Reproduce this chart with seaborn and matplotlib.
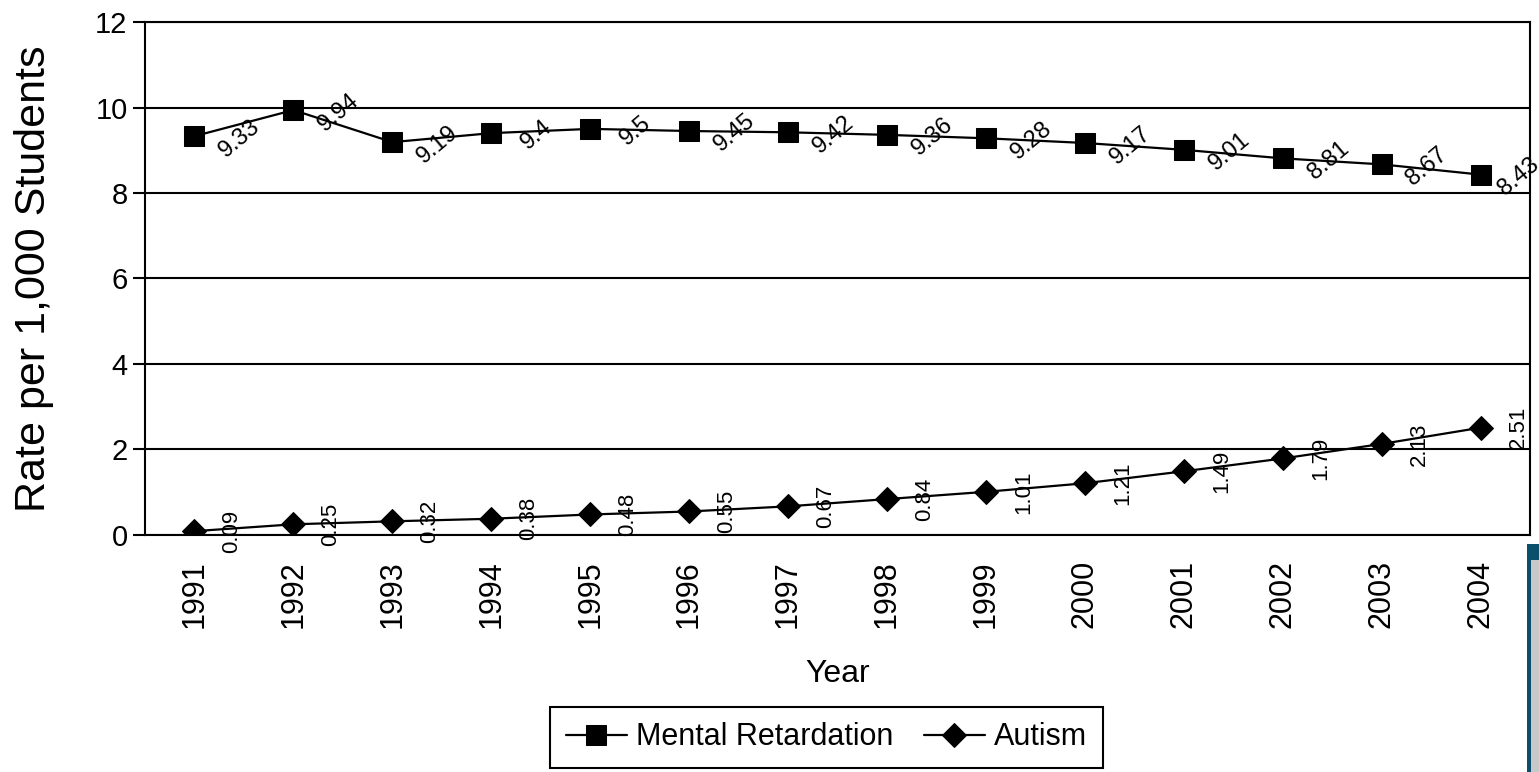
import numpy as np
import pandas as pd
import matplotlib
matplotlib.use("Agg")
import matplotlib.pyplot as plt
import seaborn as sns
from matplotlib.patches import Rectangle

years = [1991, 1992, 1993, 1994, 1995, 1996, 1997, 1998, 1999, 2000, 2001, 2002, 2003, 2004]
mental_retardation = [9.33, 9.94, 9.19, 9.4, 9.5, 9.45, 9.42, 9.36, 9.28, 9.17, 9.01, 8.81, 8.67, 8.43]
autism = [0.09, 0.25, 0.32, 0.38, 0.48, 0.55, 0.67, 0.84, 1.01, 1.21, 1.49, 1.79, 2.13, 2.51]
mr_labels = ["9.33", "9.94", "9.19", "9.4", "9.5", "9.45", "9.42", "9.36", "9.28", "9.17", "9.01", "8.81", "8.67", "8.43"]
autism_labels = ["0.09", "0.25", "0.32", "0.38", "0.48", "0.55", "0.67", "0.84", "1.01", "1.21", "1.49", "1.79", "2.13", "2.51"]

sns.set_style("white")
plt.rcParams["font.family"] = ["Liberation Sans", "DejaVu Sans"]
plt.rcParams["text.color"] = "black"
plt.rcParams["axes.labelcolor"] = "black"
plt.rcParams["xtick.color"] = "black"
plt.rcParams["ytick.color"] = "black"

df = pd.DataFrame({
    "Year": years * 2,
    "Rate": mental_retardation + autism,
    "Series": ["Mental Retardation"] * len(years) + ["Autism"] * len(years),
})

fig, ax = plt.subplots(figsize=(15.39, 7.72), dpi=100)
fig.subplots_adjust(left=0.0942, right=0.9942, top=0.9715, bottom=0.307)

sns.lineplot(data=df, x="Year", y="Rate", hue="Series", style="Series",
             palette=["black", "black"], markers={"Mental Retardation": "s", "Autism": "D"},
             dashes=False, linewidth=1.6, markersize=14, markeredgecolor="black",
             ax=ax, legend=True)
# diamonds a bit smaller than squares
for line in ax.lines:
    if line.get_marker() == "D":
        line.set_markersize(12)

for i, (x, y, t) in enumerate(zip(years, mental_retardation, mr_labels)):
    dx = 0.39 if i == len(years) - 1 else 0.46
    ax.text(x + dx, y - 0.05, t, rotation=40, ha="center", va="center", fontsize=17)
for x, y, t in zip(years, autism, autism_labels):
    ax.text(x + 0.38, y, t, rotation=90, ha="center", va="center", fontsize=16)

ax.set_xlim(1990.5, 2004.5)
ax.set_ylim(0, 12)
ax.set_xticks(years)
ax.set_xticklabels([str(y) for y in years], rotation=90, fontsize=22)
ax.set_xticks(np.arange(1990.5, 2005, 1), minor=True)
ax.tick_params(axis="x", which="major", length=0, pad=18)
ax.tick_params(axis="x", which="minor", length=9, width=1.5, direction="out", color="black")
ax.set_yticks([0, 2, 4, 6, 8, 10, 12])
ax.tick_params(axis="y", length=9, width=1.5, direction="out", color="black", labelsize=21, left=True)
ax.grid(axis="y", color="black", linewidth=1.5)
ax.grid(axis="x", visible=False)
for s in ax.spines.values():
    s.set_color("black")
    s.set_linewidth(1.5)

ax.set_xlabel("Year", fontsize=23, labelpad=22)
ax.set_ylabel("Rate per 1,000 Students", fontsize=31, labelpad=30)

handles, labels = ax.get_legend_handles_labels()
ax.legend(handles, labels, loc="center", bbox_to_anchor=(0.537, 0.045),
          bbox_transform=fig.transFigure, ncol=2, fontsize=22, frameon=True,
          fancybox=False, edgecolor="black", framealpha=1, handlelength=2.0,
          handletextpad=0.3, columnspacing=1.0, borderpad=0.5)
ax.get_legend().get_frame().set_linewidth(1.5)

# slide artefact at the lower right corner
fig.patches.append(Rectangle((1527 / 1539, 0), 12 / 1539, 228 / 772, transform=fig.transFigure,
                             facecolor="#0b4f6c", edgecolor="none"))
fig.patches.append(Rectangle((1531 / 1539, 0), 8 / 1539, 212 / 772, transform=fig.transFigure,
                             facecolor="#c8c8c8", edgecolor="none"))

plt.savefig("out.png", dpi=100)
